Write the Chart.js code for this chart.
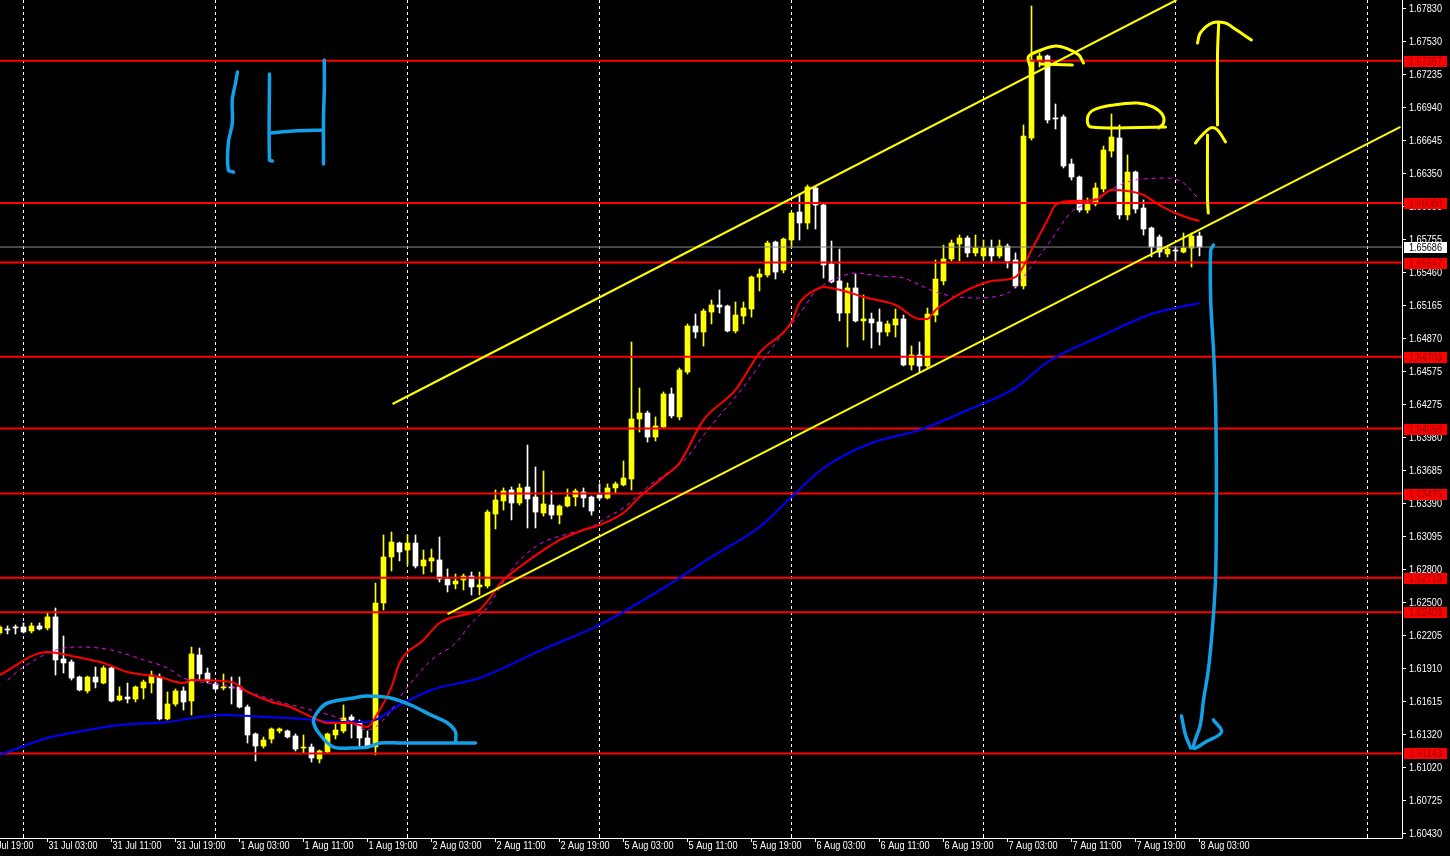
<!DOCTYPE html>
<html>
<head>
<meta charset="utf-8">
<script src="https://cdn.jsdelivr.net/npm/chart.js@4.4.1/dist/chart.umd.min.js"></script>
<style>
  html, body { margin: 0; padding: 0; background: #000; }
  #wrap { width: 1450px; height: 856px; }
</style>
</head>
<body>
<div id="wrap"><canvas id="chart"></canvas></div>
<script>
// ===== 1H candles, 30 Jul 21:00 .. 8 Aug 03:00 =====
// bar index 0 = 31 Jul 00:00, weekend skipped
const firstBar = -3;

const opens = [1.62224,1.62260,1.62278,1.62278,1.62242,1.62287,1.62269,1.62368,1.61991,1.61964,
  1.61829,1.61704,1.61829,1.61775,1.61910,1.61623,1.61650,1.61632,1.61731,1.61775,
  1.61829,1.61453,1.61587,1.61704,1.61614,1.62027,1.61865,1.61767,1.61731,1.61740,
  1.61740,1.61560,1.61318,1.61210,1.61273,1.61345,1.61345,1.61300,1.61192,1.61201,
  1.61094,1.61157,1.61309,1.61345,1.61471,1.61417,1.61282,1.61201,1.62493,1.62906,
  1.63031,1.62968,1.63031,1.62825,1.62870,1.62879,1.62708,1.62664,1.62699,1.62735,
  1.62637,1.62646,1.63291,1.63408,1.63507,1.63390,1.63534,1.63444,1.63300,1.63372,
  1.63282,1.63363,1.63444,1.63489,1.63444,1.63462,1.63435,1.63525,1.63552,1.63605,
  1.64144,1.64197,1.63982,1.64072,1.64368,1.64162,1.64565,1.64978,1.64924,1.65103,
  1.65166,1.65157,1.64933,1.65067,1.65130,1.65417,1.65435,1.65731,1.65480,1.65749,
  1.66000,1.65902,1.66216,1.66063,1.65534,1.65382,1.65094,1.65319,1.65023,1.65041,
  1.65014,1.64924,1.64987,1.65041,1.64628,1.64718,1.64619,1.65076,1.65382,1.65579,
  1.65713,1.65767,1.65633,1.65606,1.65677,1.65606,1.65695,1.65570,1.65337,1.66664,
  1.67355,1.67400,1.66844,1.66853,1.66431,1.66314,1.66018,1.66072,1.66207,1.66547,
  1.66664,1.65974,1.66359,1.66036,1.65857,1.65776,1.65624,1.65659,1.65641,1.65677,
  1.65785];
const highs = [1.62296,1.62287,1.62296,1.62314,1.62314,1.62314,1.62403,1.62448,1.62197,1.61982,
  1.61838,1.61838,1.61919,1.61928,1.61919,1.61740,1.61775,1.61749,1.61802,1.61883,
  1.61856,1.61695,1.61722,1.61740,1.62098,1.62089,1.61910,1.61784,1.61856,1.61829,
  1.61829,1.61578,1.61327,1.61291,1.61372,1.61372,1.61354,1.61318,1.61309,1.61228,
  1.61174,1.61327,1.61417,1.61578,1.61489,1.61444,1.61345,1.62672,1.63103,1.63130,
  1.63040,1.63103,1.63103,1.62968,1.62977,1.63085,1.62798,1.62753,1.62753,1.62771,
  1.62771,1.63327,1.63507,1.63525,1.63534,1.63561,1.63910,1.63713,1.63677,1.63498,
  1.63372,1.63516,1.63516,1.63525,1.63453,1.63561,1.63561,1.63579,1.63767,1.64834,
  1.64422,1.64215,1.64162,1.64386,1.64422,1.64601,1.64996,1.65085,1.65130,1.65211,
  1.65301,1.65166,1.65193,1.65193,1.65426,1.65489,1.65740,1.65740,1.65767,1.66000,
  1.66162,1.66243,1.66234,1.66081,1.65740,1.65668,1.65364,1.65444,1.65256,1.65094,
  1.65130,1.65023,1.65130,1.65076,1.64798,1.64834,1.65139,1.65570,1.65704,1.65749,
  1.65794,1.65785,1.65794,1.65749,1.65749,1.65749,1.65713,1.65633,1.66781,1.67848,
  1.67427,1.67409,1.66969,1.66871,1.66476,1.66323,1.66126,1.66260,1.66592,1.66879,
  1.66781,1.66512,1.66368,1.66108,1.65866,1.65794,1.65695,1.65686,1.65812,1.65812,
  1.65821];
const lows = [1.62206,1.62215,1.62215,1.62224,1.62224,1.62251,1.62251,1.61847,1.61865,1.61802,
  1.61704,1.61686,1.61731,1.61767,1.61605,1.61614,1.61596,1.61605,1.61632,1.61686,
  1.61444,1.61444,1.61569,1.61533,1.61488,1.61802,1.61775,1.61713,1.61713,1.61587,
  1.61551,1.61237,1.61076,1.61192,1.61237,1.61327,1.61282,1.61166,1.61147,1.61067,
  1.61058,1.61147,1.61273,1.61327,1.61282,1.61201,1.61192,1.61130,1.62430,1.62780,
  1.62870,1.62834,1.62807,1.62753,1.62771,1.62681,1.62592,1.62619,1.62610,1.62565,
  1.62565,1.62628,1.63157,1.63327,1.63238,1.63372,1.63166,1.63166,1.63273,1.63247,
  1.63202,1.63354,1.63363,1.63354,1.63282,1.63417,1.63426,1.63480,1.63543,1.63507,
  1.64027,1.63937,1.63946,1.64063,1.64153,1.64135,1.64547,1.64870,1.64798,1.64996,
  1.65094,1.64924,1.64915,1.64996,1.65058,1.65292,1.65417,1.65399,1.65453,1.65677,
  1.65749,1.65848,1.65848,1.65408,1.65364,1.65023,1.64789,1.65014,1.64852,1.64780,
  1.64807,1.64888,1.64879,1.64619,1.64583,1.64565,1.64601,1.65014,1.65346,1.65561,
  1.65561,1.65597,1.65606,1.65570,1.65543,1.65588,1.65498,1.65319,1.65310,1.66646,
  1.67301,1.66799,1.66745,1.66395,1.66287,1.66000,1.65991,1.66054,1.66180,1.66493,
  1.65938,1.65929,1.65991,1.65794,1.65597,1.65597,1.65597,1.65561,1.65633,1.65507,
  1.65606];
const closes = [1.62278,1.62251,1.62269,1.62233,1.62287,1.62260,1.62368,1.61982,1.61955,1.61820,
  1.61713,1.61829,1.61784,1.61910,1.61614,1.61659,1.61632,1.61740,1.61784,1.61847,
  1.61453,1.61587,1.61704,1.61605,1.62036,1.61856,1.61793,1.61722,1.61740,1.61731,
  1.61560,1.61309,1.61210,1.61264,1.61363,1.61363,1.61291,1.61183,1.61201,1.61103,
  1.61166,1.61318,1.61354,1.61462,1.61444,1.61282,1.61201,1.62493,1.62906,1.63040,
  1.62951,1.63031,1.62825,1.62879,1.62897,1.62708,1.62655,1.62690,1.62735,1.62637,
  1.62655,1.63309,1.63417,1.63498,1.63390,1.63525,1.63426,1.63309,1.63381,1.63282,
  1.63363,1.63444,1.63498,1.63435,1.63318,1.63435,1.63525,1.63561,1.63614,1.64144,
  1.64197,1.63982,1.64081,1.64368,1.64171,1.64583,1.64978,1.64924,1.65112,1.65166,
  1.65148,1.64933,1.65076,1.65139,1.65417,1.65444,1.65722,1.65462,1.65758,1.65991,
  1.65902,1.66225,1.66063,1.65525,1.65373,1.65094,1.65319,1.65023,1.65041,1.65005,
  1.64924,1.64996,1.65041,1.64628,1.64718,1.64619,1.65085,1.65399,1.65579,1.65722,
  1.65767,1.65633,1.65677,1.65677,1.65606,1.65695,1.65561,1.65337,1.66682,1.67364,
  1.67400,1.66826,1.66835,1.66413,1.66314,1.66018,1.66072,1.66216,1.66556,1.66673,
  1.65974,1.66359,1.66027,1.65848,1.65686,1.65641,1.65668,1.65650,1.65677,1.65785,
  1.65686];

// moving averages (bar index, price)
const redMaBars = [-3,3,6,10,13,17,20,21,26,28,31,33,36,38,41,43,44,46,47,50,52,56,57,60,62,65,67,70,72,75,77,80,82,85,89,92,96,97,99,100,103,105,109,112,113,114,116,118,121,124,125,126,127,128,129,131,134,136,138,140,142,144,146,147];
const redMaValues = [1.61847,1.62054,1.62018,1.61955,1.61874,1.61829,1.61775,1.61802,1.61784,1.61695,1.61605,1.61569,1.61471,1.61417,1.61417,1.61381,1.61471,1.61740,1.61955,1.62161,1.62314,1.62403,1.62430,1.62699,1.62816,1.62968,1.63058,1.63148,1.63193,1.63300,1.63444,1.63623,1.63749,1.64135,1.64404,1.64736,1.65014,1.65184,1.65301,1.65328,1.65283,1.65238,1.65166,1.65041,1.65041,1.65121,1.65220,1.65301,1.65381,1.65417,1.65516,1.65659,1.65794,1.65929,1.66063,1.66099,1.66108,1.66198,1.66189,1.66153,1.66063,1.65991,1.65938,1.65920];
const magMaBars = [-2,0,5,7,11,15,18,20,23,26,30,32,35,39,41,43,45,48,51,54,56,58,61,63,65,68,71,73,75,78,81,83,85,90,93,95,97,99,100,102,104,107,110,112,114,116,119,123,124,126,128,131,133,135,138,140,143,145,147];
const magMaValues = [1.61802,1.61919,1.62089,1.62098,1.62071,1.61982,1.61910,1.61820,1.61775,1.61740,1.61650,1.61605,1.61551,1.61471,1.61417,1.61354,1.61444,1.61740,1.61982,1.62134,1.62314,1.62457,1.62789,1.62942,1.63040,1.63112,1.63175,1.63265,1.63345,1.63534,1.63686,1.63803,1.63999,1.64431,1.64727,1.64915,1.65085,1.65292,1.65346,1.65417,1.65453,1.65426,1.65408,1.65346,1.65283,1.65247,1.65229,1.65274,1.65328,1.65516,1.65704,1.66000,1.66081,1.66162,1.66270,1.66296,1.66305,1.66260,1.66108];
const blueMaBars = [-3,3,6,12,18,22,25,30,35,39,43,47,51,57,65,72,80,86,92,96,100,106,112,118,124,128,135,141,147];
const blueMaValues = [1.61130,1.61282,1.61327,1.61399,1.61426,1.61471,1.61489,1.61471,1.61453,1.61426,1.61426,1.61578,1.61713,1.61820,1.62080,1.62296,1.62628,1.62906,1.63175,1.63444,1.63704,1.63928,1.64045,1.64224,1.64422,1.64655,1.64897,1.65085,1.65184];

// channel lines (bar index, price)
const upperBars = [46.125, 144.125];
const upperPrices = [1.64278, 1.67902];
const lowerBars = [53, 172.125];
const lowerPrices = [1.62394, 1.66763];

// horizontal levels and current price
const levels = [1.67357, 1.66080, 1.65547, 1.64703, 1.64058, 1.63475, 1.62719, 1.62409, 1.61143];
const lastPrice = 1.65686;

// axis ticks
const yTicks = [1.60430,1.60725,1.61020,1.61320,1.61615,1.61910,1.62205,1.62500,1.62800,1.63095,1.63390,1.63685,1.63980,1.64275,1.64575,1.64870,1.65165,1.65460,1.65755,1.66055,1.66350,1.66645,1.66940,1.67235,1.67530,1.67830];
const xTickBars = [-5,3,11,19,27,35,43,51,59,67,75,83,91,99,107,115,123,131,139,147];
const xTickLabels = ['30 Jul 19:00','31 Jul 03:00','31 Jul 11:00','31 Jul 19:00','1 Aug 03:00','1 Aug 11:00','1 Aug 19:00','2 Aug 03:00','2 Aug 11:00','2 Aug 19:00','5 Aug 03:00','5 Aug 11:00','5 Aug 19:00','6 Aug 03:00','6 Aug 11:00','6 Aug 19:00','7 Aug 03:00','7 Aug 11:00','7 Aug 19:00','8 Aug 03:00'];
const daySeparators = [0, 24, 48, 72, 96, 120, 144, 168];

// hand drawn marks, anchored to (bar, price)
const blueStrokes = [
  [[26.75,1.67256],[26.5,1.67157],[26.1,1.67005],[26.1,1.66799],[25.6,1.66619],[25.6,1.66377],[26.25,1.66359]],
  [[30.75,1.67238],[30.75,1.66467],[31.1,1.66458]],
  [[30.9,1.66709],[33.75,1.66727],[37.5,1.66736]],
  [[37.6,1.67364],[37.6,1.67095],[37.5,1.66853],[37.5,1.66431]],
  [[54,1.61246],[54,1.61336],[53,1.61417],[50.9,1.61489],[48.4,1.61578],[45.9,1.61641],[43,1.61659],[41.25,1.61641],[38,1.61596],[36.75,1.61515],[36.25,1.61426],[37.1,1.61309],[38.75,1.61201],[40.9,1.61192],[43,1.61201],[44.6,1.61237],[47.1,1.61237],[51.25,1.61237],[56.5,1.61237]],
  [[148.75,1.65704],[148.4,1.65659],[148.4,1.65211],[148.75,1.64762],[149,1.64314],[149.1,1.63776],[149.1,1.63238],[149,1.62699],[148.6,1.62251],[148.1,1.61892],[147.5,1.61623],[147.1,1.61399],[146.25,1.61192],[147.75,1.61246],[149.75,1.61336],[148.75,1.61444]],
  [[144.75,1.61480],[145.25,1.61309],[145.9,1.61192]]
];
const yellowStrokes = [
  [[125.9,1.67292],[125.6,1.67391],[126.9,1.67445],[129,1.67489],[130.6,1.67462],[131.9,1.67409],[132.5,1.67337]],
  [[127.1,1.67328],[131.1,1.67319]],
  [[142.75,1.66763],[133.4,1.66763],[133,1.66844],[133.75,1.66915],[136.25,1.66960],[139.25,1.66978],[141.25,1.66942],[142.4,1.66871],[142.5,1.66799],[141.9,1.66754]],
  [[149.25,1.66781],[149.25,1.67409],[149.4,1.67696]],
  [[146.75,1.67516],[147.1,1.67606],[148.6,1.67696],[150.25,1.67696],[151.25,1.67651],[153.5,1.67543]],
  [[148.1,1.65991],[148,1.66108],[148,1.66646],[148,1.66691]],
  [[146.5,1.66619],[147.1,1.66673],[148.4,1.66754],[149.25,1.66736],[150.25,1.66629]]
];

const X_MIN = -2.9375, X_MAX = 172.3125;
const Y_MIN = 1.60385, Y_MAX = 1.67902;
const AXIS_FONT = '11px "Liberation Sans", Arial, sans-serif';

const barIndex = opens.map((_, i) => firstBar + i);
const candleColor = opens.map((o, i) => closes[i] > o ? '#ffff00' : '#ffffff');
const pts = (xs, ys) => xs.map((x, i) => ({ x: x, y: ys[i] }));

const datasets = [];
datasets.push({
  type: 'bar', label: 'wicks',
  data: barIndex.map((k, i) => ({ x: k, y: [lows[i], highs[i]] })),
  backgroundColor: candleColor, barThickness: 1, grouped: false, order: 30
});
datasets.push({
  type: 'bar', label: 'bodies',
  data: barIndex.map((k, i) => ({ x: k, y: [opens[i], closes[i]] })),
  backgroundColor: candleColor, barThickness: 5, minBarLength: 1, grouped: false, order: 29
});
levels.forEach(lv => datasets.push({
  type: 'line', data: pts([X_MIN, X_MAX], [lv, lv]),
  borderColor: '#ff0000', borderWidth: 2, pointRadius: 0, order: 20
}));
datasets.push({
  type: 'line', data: pts([X_MIN, X_MAX], [lastPrice, lastPrice]),
  borderColor: '#8c8c8c', borderWidth: 1, pointRadius: 0, order: 21
});
datasets.push({
  type: 'line', label: 'blue MA', data: pts(blueMaBars, blueMaValues),
  borderColor: '#0000ff', borderWidth: 2, pointRadius: 0, cubicInterpolationMode: 'monotone', order: 12
});
datasets.push({
  type: 'line', label: 'magenta MA', data: pts(magMaBars, magMaValues),
  borderColor: '#ff00ff', borderWidth: 1, borderDash: [4, 4], pointRadius: 0, cubicInterpolationMode: 'monotone', order: 11
});
datasets.push({
  type: 'line', label: 'red MA', data: pts(redMaBars, redMaValues),
  borderColor: '#ff0000', borderWidth: 2, pointRadius: 0, cubicInterpolationMode: 'monotone', order: 10
});
datasets.push({
  type: 'line', data: pts(upperBars, upperPrices),
  borderColor: '#ffff00', borderWidth: 2, pointRadius: 0, order: 8
});
datasets.push({
  type: 'line', data: pts(lowerBars, lowerPrices),
  borderColor: '#ffff00', borderWidth: 2, pointRadius: 0, order: 8
});
const addStroke = (s, color, w) => datasets.push({
  type: 'line', data: s.map(p => ({ x: p[0], y: p[1] })),
  borderColor: color, borderWidth: w, pointRadius: 0, tension: 0.35,
  borderCapStyle: 'round', borderJoinStyle: 'round', order: 2
});
yellowStrokes.forEach(s => addStroke(s, '#ffff00', 3));
blueStrokes.forEach(s => addStroke(s, '#12a0e6', 3.5));

const mt4Frame = {
  id: 'mt4Frame',
  beforeDraw(chart) {
    const { ctx, width, height } = chart;
    ctx.save();
    ctx.fillStyle = '#000';
    ctx.fillRect(0, 0, width, height);
    ctx.restore();
  },
  beforeDatasetsDraw(chart) {
    const { ctx, chartArea: a, scales: { x } } = chart;
    ctx.save();
    ctx.strokeStyle = '#ffffff';
    ctx.lineWidth = 1;
    ctx.setLineDash([3, 3]);
    daySeparators.forEach(k => {
      const px = Math.floor(x.getPixelForValue(k)) + 0.5;
      if (px < a.left || px > a.right) return;
      ctx.beginPath();
      ctx.moveTo(px, a.top);
      ctx.lineTo(px, a.bottom);
      ctx.stroke();
    });
    ctx.restore();
  },
  afterDraw(chart) {
    const { ctx, chartArea: a, scales: { x, y } } = chart;
    ctx.save();
    ctx.strokeStyle = '#ffffff';
    ctx.lineWidth = 1;
    // axis lines
    ctx.beginPath();
    ctx.moveTo(a.right + 0.5, 0);
    ctx.lineTo(a.right + 0.5, a.bottom + 0.5);
    ctx.lineTo(0, a.bottom + 0.5);
    ctx.stroke();
    ctx.font = AXIS_FONT;
    ctx.fillStyle = '#ffffff';
    ctx.textBaseline = 'middle';
    ctx.textAlign = 'left';
    // price ticks
    yTicks.forEach(v => {
      const py = Math.round(y.getPixelForValue(v)) + 0.5;
      ctx.beginPath();
      ctx.moveTo(a.right, py);
      ctx.lineTo(a.right + 4, py);
      ctx.stroke();
      ctx.fillText(v.toFixed(5), a.right + 7, py, 33);
    });
    // time ticks
    xTickBars.forEach((k, i) => {
      const px = Math.floor(x.getPixelForValue(k)) + 0.5;
      ctx.beginPath();
      ctx.moveTo(px, a.bottom);
      ctx.lineTo(px, a.bottom + 4);
      ctx.stroke();
      ctx.fillText(xTickLabels[i], px + 1, a.bottom + 8, 49);
    });
    daySeparators.forEach(k => {
      const px = Math.floor(x.getPixelForValue(k)) + 0.5;
      if (px > a.right) return;
      ctx.beginPath();
      ctx.moveTo(px, a.bottom - 4);
      ctx.lineTo(px, a.bottom);
      ctx.stroke();
    });
    // level labels
    const tag = (v, bg, fg) => {
      const py = Math.round(y.getPixelForValue(v));
      ctx.fillStyle = bg;
      ctx.fillRect(a.right + 2, py - 5, 43, 11);
      ctx.fillStyle = fg;
      ctx.fillText(v.toFixed(5), a.right + 7, py + 0.5, 33);
    };
    levels.forEach(v => tag(v, '#ff0000', '#8a0000'));
    tag(lastPrice, '#ffffff', '#000000');
    ctx.restore();
  }
};

new Chart(document.getElementById('chart'), {
  type: 'bar',
  data: { datasets: datasets },
  options: {
    responsive: true,
    maintainAspectRatio: false,
    animation: false,
    devicePixelRatio: 1,
    layout: { padding: { left: 0, top: 0, right: 48, bottom: 18 } },
    plugins: { legend: { display: false }, tooltip: { enabled: false } },
    scales: {
      x: { type: 'linear', min: X_MIN, max: X_MAX, offset: false, display: false },
      y: { type: 'linear', min: Y_MIN, max: Y_MAX, display: false }
    }
  },
  plugins: [mt4Frame]
});
</script>
</body>
</html>
